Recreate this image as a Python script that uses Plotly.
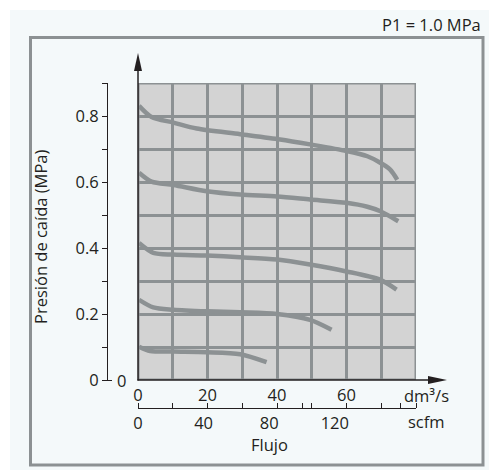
import plotly.graph_objects as go

# ---------------- data ----------------
flow_1 = [0.3, 3.9, 10.2, 16.9, 29.4, 40.9, 49.5, 60.0, 66.0, 69.6, 72.5, 74.6]
drop_1 = [0.831, 0.797, 0.780, 0.762, 0.745, 0.729, 0.714, 0.694, 0.678, 0.659, 0.638, 0.607]

flow_2 = [0.3, 3.9, 10.2, 19.8, 29.4, 40.0, 49.5, 60.0, 66.0, 69.6, 74.9]
drop_2 = [0.628, 0.601, 0.591, 0.572, 0.562, 0.556, 0.547, 0.537, 0.525, 0.512, 0.481]

flow_3 = [0.3, 4.4, 10.2, 19.8, 29.4, 40.0, 49.5, 60.0, 69.6, 74.4]
drop_3 = [0.415, 0.385, 0.380, 0.377, 0.372, 0.365, 0.350, 0.329, 0.304, 0.274]

flow_4 = [0.3, 4.4, 10.2, 19.8, 29.4, 40.0, 49.5, 55.7]
drop_4 = [0.243, 0.220, 0.213, 0.208, 0.205, 0.200, 0.182, 0.152]

flow_5 = [0.3, 3.5, 10.2, 19.8, 29.4, 37.0]
drop_5 = [0.101, 0.088, 0.086, 0.084, 0.078, 0.054]

flow_ticks = [0, 10, 20, 30, 40, 50, 60, 70, 80]
flow_ticktext = ["0", "", "20", "", "40", "", "60", "", ""]
pressure_ticks = [0, 0.1, 0.2, 0.3, 0.4, 0.5, 0.6, 0.7, 0.8, 0.9]
pressure_ticktext = ["0", "", "0.2", "", "0.4", "", "0.6", "", "0.8", ""]
scfm_labels = [0, 40, 80, 120]
scfm_extra_ticks = [100, 160]
SCFM_PER_DM3S = 2.1189
FLOW_MAX = 80
PRESSURE_MAX = 0.9

# ---------------- styling ----------------
W, H = 489, 470
L, R, T, B = 60, 416, 83, 440   # paper box in pixels
FONT = "Open Sans"
FS = 16.5
TXT = "#231f20"
GRID = "#8c9193"
PLOTBG = "#d3d3d3"
PANEL = "#f4f9fa"


def px2x(p):
    return (p - L) / (R - L)


def py2y(p):
    return (B - p) / (B - T)


fig = go.Figure()
curves = [(flow_1, drop_1), (flow_2, drop_2), (flow_3, drop_3), (flow_4, drop_4), (flow_5, drop_5)]
for fx, fy in curves:
    fig.add_trace(go.Scatter(x=fx, y=fy, mode="lines",
                             line=dict(color=GRID, width=4.5, shape="spline", smoothing=0.8),
                             showlegend=False, hoverinfo="skip"))

# dummy traces so the secondary axes are drawn
fig.add_trace(go.Scatter(x=[None], y=[None], xaxis="x2", yaxis="y", showlegend=False, hoverinfo="skip"))
fig.add_trace(go.Scatter(x=[None], y=[None], xaxis="x", yaxis="y2", showlegend=False, hoverinfo="skip"))

x_dom = [px2x(138), 1]
y_dom = [py2y(380), 1]

shapes = [
    dict(type="rect", xref="paper", yref="paper", x0=px2x(10), x1=px2x(495), y0=py2y(475), y1=py2y(10),
         fillcolor=PANEL, line=dict(width=0), layer="below"),
    dict(type="rect", xref="paper", yref="paper", x0=px2x(30.5), x1=px2x(483), y0=py2y(465), y1=py2y(37.5),
         fillcolor=PANEL, line=dict(color=GRID, width=3), layer="below"),
    dict(type="rect", xref="x", yref="y", x0=0, x1=FLOW_MAX, y0=0, y1=PRESSURE_MAX,
         fillcolor=PLOTBG, line=dict(width=0), layer="below"),
    dict(type="rect", xref="x", yref="y", x0=0, x1=FLOW_MAX, y0=0, y1=PRESSURE_MAX,
         fillcolor="rgba(0,0,0,0)", line=dict(color=GRID, width=3), layer="between"),
    dict(type="line", xref="paper", yref="paper", x0=px2x(138), x1=px2x(138), y0=py2y(380.5), y1=py2y(68),
         line=dict(color=TXT, width=1.5), layer="above"),
    dict(type="line", xref="paper", yref="paper", x0=px2x(137.5), x1=px2x(432), y0=py2y(380), y1=py2y(380),
         line=dict(color=TXT, width=1.5), layer="above"),
    dict(type="path", xref="paper", yref="paper",
         path=f"M {px2x(138)} {py2y(53)} L {px2x(134)} {py2y(71)} L {px2x(142)} {py2y(71)} Z",
         fillcolor=TXT, line=dict(width=0), layer="above"),
    dict(type="path", xref="paper", yref="paper",
         path=f"M {px2x(447)} {py2y(380)} L {px2x(428)} {py2y(376)} L {px2x(428)} {py2y(384)} Z",
         fillcolor=TXT, line=dict(width=0), layer="above"),
    dict(type="line", xref="paper", yref="paper", x0=px2x(102.5), x1=px2x(112), y0=py2y(380.5), y1=py2y(380.5),
         line=dict(color=TXT, width=1), layer="above"),
]


def label(text, x, y, xanchor="center", angle=0):
    return dict(text=text, xref="paper", yref="paper", x=px2x(x), y=py2y(y), xanchor=xanchor,
                yanchor="middle", textangle=angle, showarrow=False,
                font=dict(size=FS, color=TXT, family=FONT))


annotations = [
    label("P1 = 1.0 MPa", 483, 25, xanchor="right"),
    label("Presión de caída (MPa)", 40, 237, angle=-90),
    label("0", 121, 380),
    label("dm³/s", 426, 395),
    label("scfm", 426, 421),
    label("Flujo", 269, 444),
]

fig.update_layout(
    width=W, height=H, autosize=False,
    margin=dict(l=L, r=W - R, t=T, b=H - B, pad=0),
    paper_bgcolor="white", plot_bgcolor="rgba(0,0,0,0)",
    font=dict(family=FONT, size=FS, color=TXT),
    showlegend=False,
    xaxis=dict(domain=x_dom, range=[0, FLOW_MAX], tickmode="array", tickvals=flow_ticks,
               ticktext=flow_ticktext, ticks="", showgrid=True, gridcolor=GRID, gridwidth=3,
               zeroline=False, showline=False, ticklabelstandoff=3, fixedrange=True),
    yaxis=dict(domain=y_dom, range=[0, PRESSURE_MAX], tickmode="array", tickvals=pressure_ticks,
               showticklabels=False, ticks="", showgrid=True, gridcolor=GRID, gridwidth=3,
               zeroline=False, showline=False, fixedrange=True),
    xaxis2=dict(overlaying="x", anchor="free", position=py2y(408), side="bottom",
                range=[0, FLOW_MAX * SCFM_PER_DM3S], tickmode="array", tickvals=scfm_labels,
                ticktext=[str(v) for v in scfm_labels], ticks="", showgrid=False, zeroline=False,
                showline=True, linecolor=TXT, linewidth=1, ticklabelstandoff=0,
                minor=dict(tickmode="array",
                           tickvals=[v * SCFM_PER_DM3S for v in flow_ticks] + scfm_extra_ticks,
                           ticks="inside", ticklen=5, tickcolor=TXT, tickwidth=1, showgrid=False),
                fixedrange=True),
    yaxis2=dict(overlaying="y", anchor="free", position=px2x(107), side="left",
                range=[0, PRESSURE_MAX], tickmode="array", tickvals=pressure_ticks,
                ticktext=pressure_ticktext, ticks="outside", ticklen=5, tickcolor=TXT, tickwidth=1,
                showgrid=False, zeroline=False, showline=True, linecolor=TXT, linewidth=1,
                ticklabelstandoff=0, fixedrange=True),
    shapes=shapes,
    annotations=annotations,
)

fig.write_html("out.html", config={"displayModeBar": False},
               post_script="document.body.style.margin='0px';"
               "document.body.style.overflow='hidden';")
